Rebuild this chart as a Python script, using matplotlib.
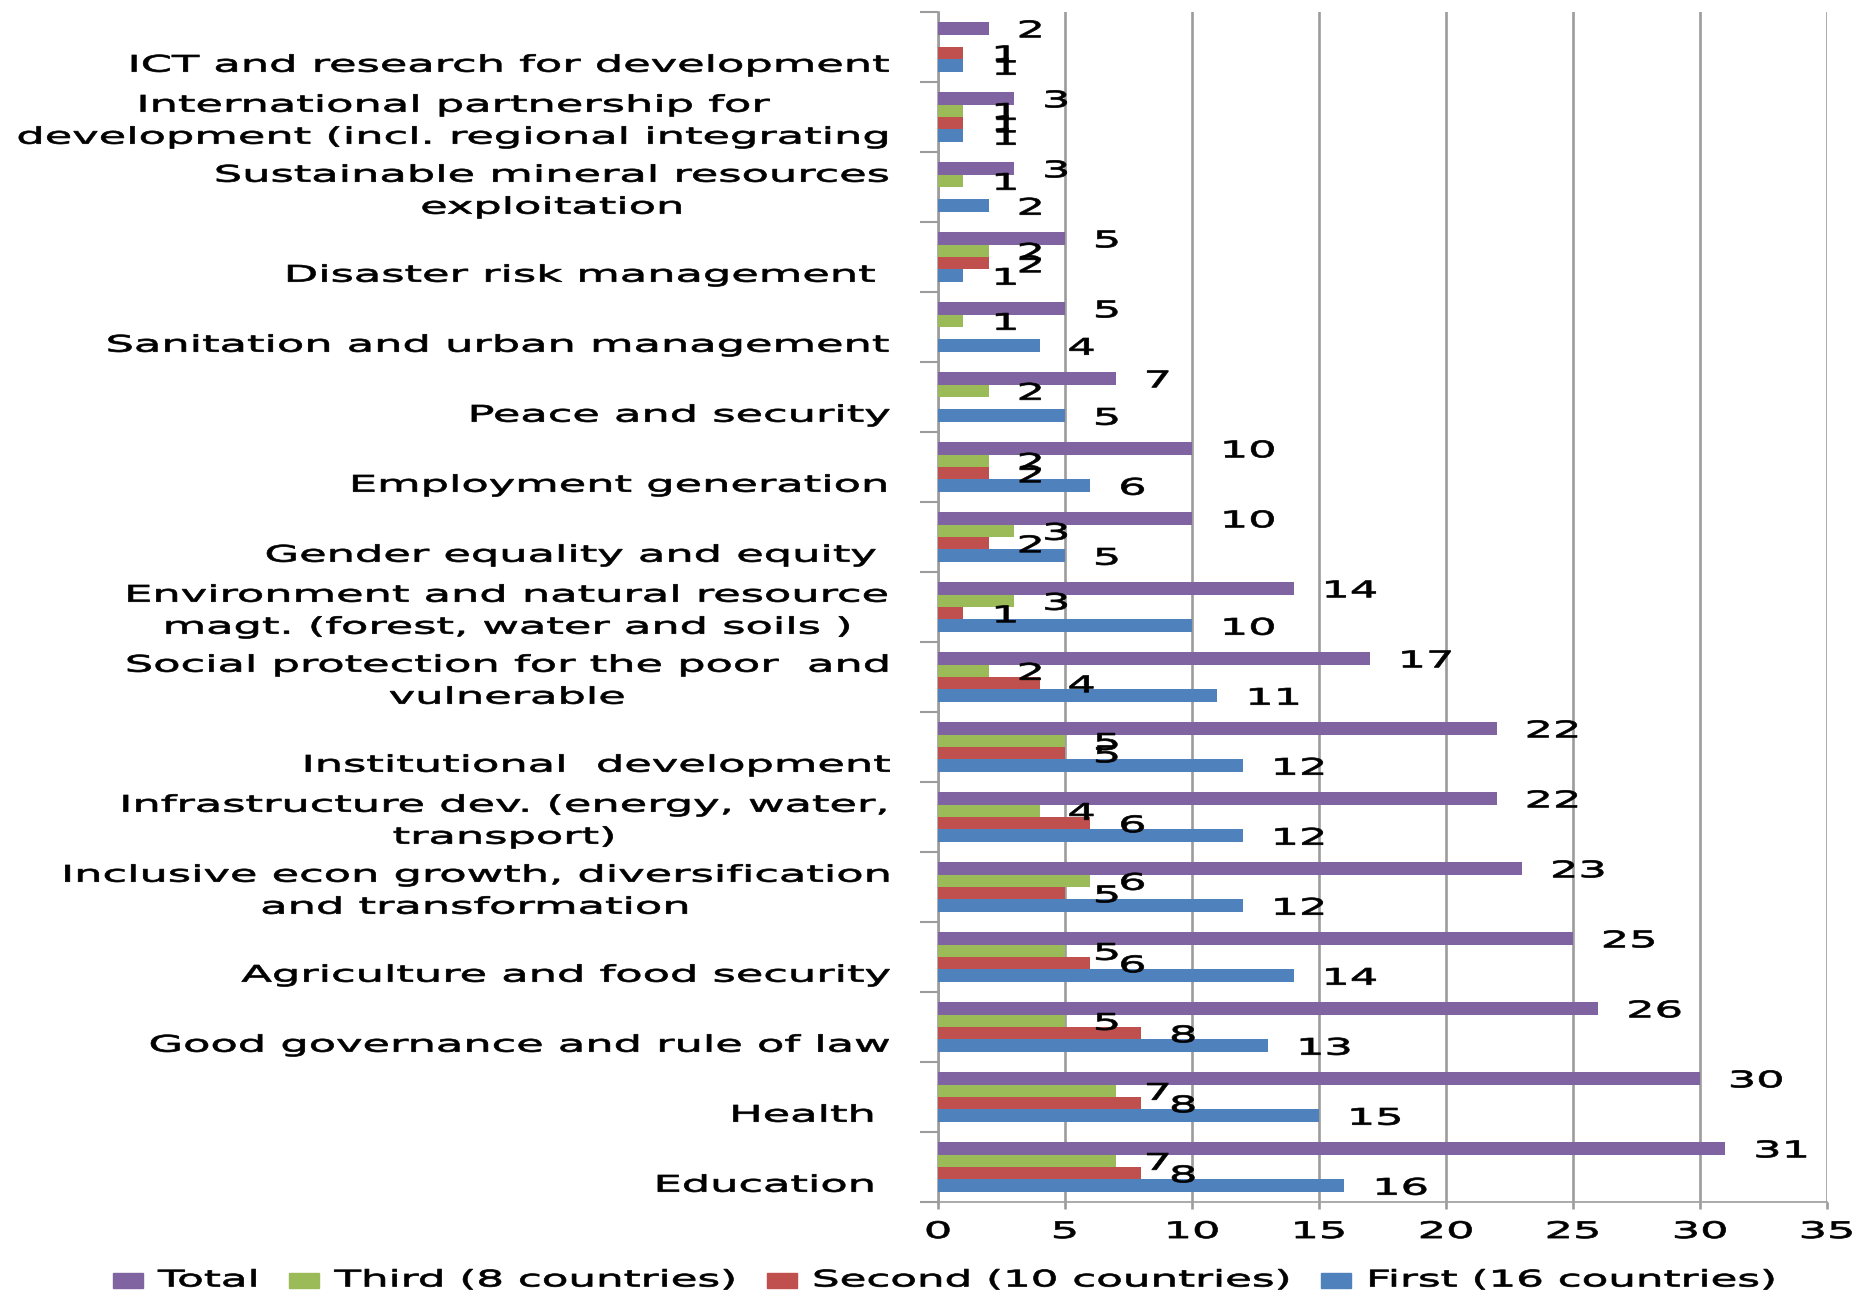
import numpy as np
import matplotlib
matplotlib.use("Agg")
import matplotlib.pyplot as plt
from matplotlib.patheffects import AbstractPathEffect
from matplotlib.transforms import Affine2D, ScaledTranslation
from matplotlib.patches import Rectangle

nan = np.nan

# categories bottom -> top
categories = [
    "Education ",
    "Health ",
    "Good governance and rule of law",
    "Agriculture and food security",
    "Inclusive econ growth, diversification\nand transformation",
    "Infrastructure dev. (energy, water,\ntransport)",
    "Institutional  development",
    "Social protection for the poor  and\nvulnerable",
    "Environment and natural resource\nmagt. (forest, water and soils )",
    "Gender equality and equity ",
    "Employment generation",
    "Peace and security",
    "Sanitation and urban management",
    "Disaster risk management ",
    "Sustainable mineral resources\nexploitation",
    "International partnership for\ndevelopment (incl. regional integrating",
    "ICT and research for development",
]
first = [16, 15, 13, 14, 12, 12, 12, 11, 10, 5, 6, 5, 4, 1, 2, 1, 1]
second = [8, 8, 8, 6, 5, 6, 5, 4, 1, 2, 2, nan, nan, 2, nan, 1, 1]
third = [7, 7, 5, 5, 6, 4, 5, 2, 3, 3, 2, 2, 1, 2, 1, 1, nan]
total = [31, 30, 26, 25, 23, 22, 22, 17, 14, 10, 10, 7, 5, 5, 3, 3, 2]

series_names = ["Total", "Third (8 countries)", "Second (10 countries)", "First (16 countries)"]
series_vals = [total, third, second, first]
colors = ["#8064A2", "#9BBB59", "#C0504D", "#4F81BD"]
xticks = [0, 5, 10, 15, 20, 25, 30, 35]

SX = 1.95     # horizontal stretch of the text (the original chart is stretched)
FS = 16.5
GRID = "#9C9C9C"


class Widen(AbstractPathEffect):
    # stretch text horizontally around its anchor point, slightly heavier stroke
    def __init__(self, text, sx):
        super().__init__()
        self.text = text
        self.sx = sx

    def draw_path(self, renderer, gc, tpath, affine, rgbFace=None):
        t = self.text
        x0 = t.get_transform().transform(t.get_unitless_position())[0]
        tr = affine + Affine2D().translate(-x0, 0).scale(self.sx, 1).translate(x0, 0)
        gc0 = renderer.new_gc()
        gc0.copy_properties(gc)
        if rgbFace is not None:
            gc0.set_foreground(rgbFace)
        gc0.set_linewidth(0.5)
        renderer.draw_path(gc0, tpath, tr, rgbFace)
        gc0.restore()


def widen(t, sx=SX):
    t.set_path_effects([Widen(t, sx)])
    return t


W, H = 1864, 1293
fig = plt.figure(figsize=(W / 100, H / 100), dpi=100)
ax = fig.add_axes([938 / W, 1 - 1202 / H, (1827 - 938) / W, (1202 - 12) / H])

y = np.arange(len(categories))
h = 0.178
offsets = [1.5 * h, 0.5 * h, -0.5 * h, -1.5 * h]

lab_tr = ax.transData + ScaledTranslation(20 / 72, -6.5 / 72, fig.dpi_scale_trans)
for vals, c, off in zip(series_vals, colors, offsets):
    vals = np.array(vals, dtype=float)
    ax.barh(y + off, vals, height=h, color=c, zorder=3)
    for yi, v in zip(y, vals):
        if np.isnan(v):
            continue
        t = ax.text(v, yi + off, "%d" % v, transform=lab_tr, ha="left", va="baseline",
                    fontsize=FS, color="black", zorder=4)
        widen(t)

ax.set_xlim(0, 35)
ax.set_ylim(-0.5, len(categories) - 0.5)
ax.set_xticks(xticks)
ax.set_yticks([])
ax.set_yticks(np.arange(-0.5, len(categories)), minor=True)
ax.tick_params(axis="y", which="minor", length=13, width=1.5, color=GRID, direction="out")
ax.tick_params(axis="x", length=5, width=1.9, color=GRID, pad=8, labelsize=FS)
ax.grid(axis="x", color=GRID, linewidth=1.9, zorder=0)
for s in ["top", "right"]:
    ax.spines[s].set_visible(False)
ax.spines["left"].set_color(GRID)
ax.spines["left"].set_linewidth(1.9)
ax.spines["bottom"].set_color(GRID)
ax.spines["bottom"].set_linewidth(1.2)
for lab in ax.get_xticklabels():
    widen(lab)

# category labels
for yi, name in zip(y, categories):
    dy = -0.06 if "\n" in name else -0.26
    t = ax.text(-1.9, yi + dy, name, ha="right", va="center", multialignment="center",
                fontsize=FS, linespacing=1.5, clip_on=False)
    widen(t)

# legend along the bottom
renderer = fig.canvas.get_renderer()
LSX = 1.9
xpos = 113
for name, c in zip(series_names, colors):
    fig.patches.append(Rectangle((xpos / W, 1 - 1288 / H), 30 / W, 15 / H,
                                 transform=fig.transFigure, color=c, figure=fig))
    t = fig.text((xpos + 45) / W, 1 - 1280 / H, name, ha="left", va="center", fontsize=FS)
    widen(t, LSX)
    wpx = t.get_window_extent(renderer).width * LSX
    xpos = xpos + 45 + wpx + 30

fig.savefig("out.png", dpi=100)
